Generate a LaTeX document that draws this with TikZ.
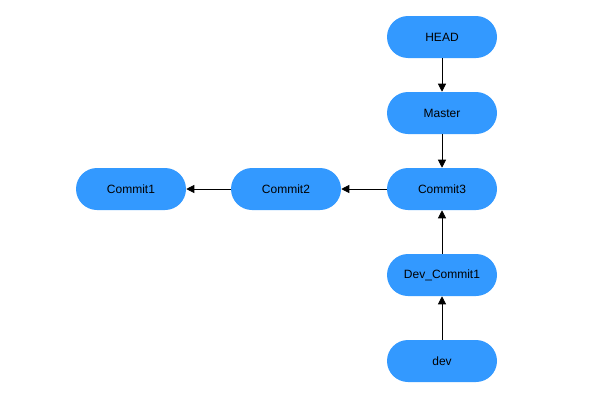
\documentclass[tikz,border=0pt]{standalone}
\usepackage{fontspec}
\setmainfont{Liberation Sans}
\usetikzlibrary{arrows.meta}
\begin{document}
\begin{tikzpicture}[x=0.75pt,y=-0.75pt,
 box/.style={draw=none,fill=c,rounded corners=15.75pt,minimum width=82.5pt,minimum height=31.5pt,inner sep=0pt,font=\fontsize{9}{10}\selectfont},
 arr/.style={-{Triangle[length=6pt,width=6pt]},line width=0.6pt}]
\definecolor{c}{RGB}{51,153,255}
\useasboundingbox[fill=white] (0,0) rectangle (600,400);
\node[box] (head) at (442,37) {HEAD};
\node[box] (master) at (442,113) {Master};
\node[box] (c3) at (442,189) {Commit3};
\node[box] (d1) at (442,275) {Dev\_Commit1};
\node[box] (dev) at (442,361) {dev};
\node[box] (c2) at (286,189) {Commit2};
\node[box] (c1) at (131,189) {Commit1};
\draw[arr] (head) -- (master);
\draw[arr] (master) -- (c3);
\draw[arr] (c3) -- (c2);
\draw[arr] (c2) -- (c1);
\draw[arr] (d1) -- (c3);
\draw[arr] (dev) -- (d1);
\end{tikzpicture}
\end{document}
